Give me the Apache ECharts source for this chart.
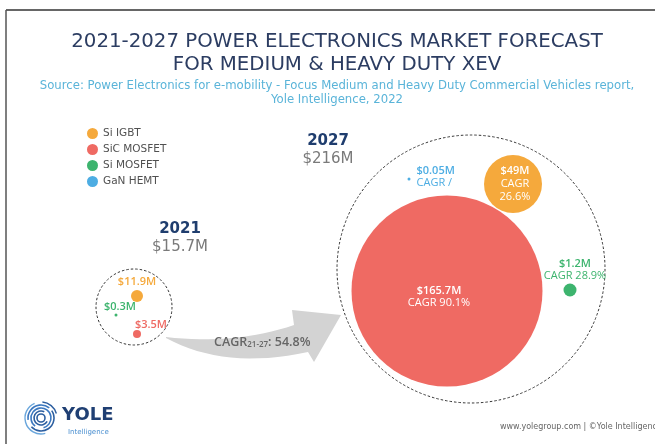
<!DOCTYPE html>
<html>
<head>
<meta charset="utf-8">
<script src="https://cdn.jsdelivr.net/npm/echarts@6/dist/echarts.min.js"></script>
<style>
  html, body { margin: 0; padding: 0; background: #fff; }
  #chart { width: 655px; height: 444px; }
</style>
</head>
<body>
<div id="chart"></div>
<script>
// market data ($M)
const segments = ['Si IGBT', 'SiC MOSFET', 'Si MOSFET', 'GaN HEMT'];
const years = ['2021', '2027'];
const totals = [15.7, 216];
const values2021 = [11.9, 3.5, 0.3, null];
const values2027 = [49, 165.7, 1.2, 0.05];
const cagr2027 = ['26.6%', '90.1%', '28.9%', '/'];
const totalCagr = 54.8;

const colors = ['#f5a93c', '#ef6a63', '#3db46e', '#4dade3'];

// layout of the infographic (hidden pixel-like axes)
const groupCenter = [[134, 307], [471, 269]];
const groupSize = [76, 268];
const offsets = [
  [[3, -11], [3, 27], [-18, 8], null],
  [[42, -85], [-24, 22], [99, 21], [-62, -90]]
];
const dotSize = [
  [12, 8, 3, 0],
  [58, 191, 13, 3]
];

const chart = echarts.init(document.getElementById('chart'));
const FONT = 'DejaVu Sans';
const LFONT = 'Open Sans';

function money(v) { return '$' + v + 'M'; }

// label placement for every bubble
function bubbleLabel(yi, si) {
  const c = colors[si];
  if (yi === 0) {
    const spec = [
      { position: 'top', distance: 3, offset: [0, 0] },
      { position: 'top', distance: 0, offset: [14, 0] },
      { position: 'top', distance: 1, offset: [4, 0] }
    ][si];
    return Object.assign({
      show: true, color: c, fontSize: 11, fontWeight: 600, fontFamily: LFONT,
      formatter: () => money(values2021[si])
    }, spec);
  }
  const v = values2027[si];
  const bold = { fontWeight: 600, fontSize: 11, fontFamily: LFONT };
  if (si === 0) {
    return {
      show: true, position: 'inside', color: '#fff', fontFamily: LFONT, fontSize: 11,
      lineHeight: 13, offset: [2, 0],
      formatter: '{b|' + money(v) + '}\nCAGR\n' + cagr2027[si],
      rich: { b: Object.assign({ color: '#fff' }, bold) }
    };
  }
  if (si === 1) {
    return {
      show: true, position: 'inside', color: '#fff', fontFamily: LFONT, fontSize: 11,
      lineHeight: 12, offset: [-8, 6],
      formatter: '{b|' + money(v) + '}\nCAGR ' + cagr2027[si],
      rich: { b: Object.assign({ color: '#fff' }, bold) }
    };
  }
  if (si === 2) {
    return {
      show: true, position: 'top', distance: 2, offset: [5, 0], color: c, fontFamily: LFONT,
      fontSize: 11, lineHeight: 12, align: 'center',
      formatter: '{b|' + money(v) + '}\nCAGR ' + cagr2027[si],
      rich: { b: Object.assign({ color: c, align: 'center' }, bold) }
    };
  }
  return {
    show: true, position: 'right', distance: 6, offset: [0, -2], color: c, fontFamily: LFONT,
    fontSize: 11, lineHeight: 12,
    formatter: '{b|' + money(v) + '}\nCAGR ' + cagr2027[si],
    rich: { b: Object.assign({ color: c }, bold) }
  };
}

const segmentSeries = segments.map(function (name, si) {
  const data = [];
  [values2021, values2027].forEach(function (vals, yi) {
    if (vals[si] == null) return;
    const off = offsets[yi][si];
    data.push({
      name: years[yi],
      value: [groupCenter[yi][0] + off[0], groupCenter[yi][1] + off[1], vals[si]],
      symbolSize: dotSize[yi][si],
      label: bubbleLabel(yi, si)
    });
  });
  return {
    name: name,
    type: 'scatter',
    z: 3,
    symbol: 'circle',
    itemStyle: { color: colors[si], opacity: 1 },
    emphasis: { disabled: true },
    data: data
  };
});

// dashed outline per year, carrying the year total
const yearLabelOffset = [[46, -69], [-143, -119]];
const yearSeries = {
  name: 'total',
  type: 'scatter',
  z: 1,
  symbol: 'circle',
  silent: true,
  itemStyle: { color: 'rgba(0,0,0,0)', opacity: 1, borderColor: '#333', borderWidth: 1, borderType: [2.5, 2] },
  data: years.map(function (y, yi) {
    return {
      value: [groupCenter[yi][0], groupCenter[yi][1], totals[yi]],
      symbolSize: groupSize[yi],
      label: {
        show: true, position: 'inside', offset: yearLabelOffset[yi],
        formatter: '{y|' + y + '}\n{v|' + money(totals[yi]) + '}',
        rich: {
          y: { fontFamily: FONT, fontWeight: 'bold', fontSize: 15, color: '#1f3d6e', lineHeight: 18, align: 'center' },
          v: { fontFamily: FONT, fontSize: 15, color: '#7a7a7a', lineHeight: 18, align: 'center' }
        }
      }
    };
  })
};

// grey arrow between the two years
function quad(p0, c, p1, n) {
  const pts = [];
  for (let i = 0; i <= n; i++) {
    const t = i / n, u = 1 - t;
    pts.push([u * u * p0[0] + 2 * u * t * c[0] + t * t * p1[0], u * u * p0[1] + 2 * u * t * c[1] + t * t * p1[1]]);
  }
  return pts;
}
const arrowPts = quad([166, 337], [235, 345], [294, 325], 16)
  .concat([[292, 310], [341, 315], [314, 362]])
  .concat(quad([308, 352], [225, 370], [166, 338], 16));

function logoArcs() {
  const arcs = [];
  const spec = [
    [4, 0, 6.3, '#2d5fa0', 1.6],
    [7, 0.5, 5.2, '#2d5fa0', 1.6],
    [10, 2.2, 7.6, '#3b78c0', 1.6],
    [13, -0.6, 2.4, '#2d5fa0', 1.6],
    [13, 3.0, 5.4, '#3b78c0', 1.6],
    [16, 1.3, 4.3, '#6aa6dc', 1.4],
    [16, 4.8, 6.0, '#2d5fa0', 1.4]
  ];
  spec.forEach(function (s) {
    arcs.push({
      type: 'arc',
      shape: { cx: 41, cy: 418, r: s[0], startAngle: s[1], endAngle: s[2] },
      style: { stroke: s[3], lineWidth: s[4], fill: null }
    });
  });
  return arcs;
}

const option = {
  backgroundColor: '#fff',
  animation: false,
  title: {
    text: '2021-2027 POWER ELECTRONICS MARKET FORECAST\nFOR MEDIUM & HEAVY DUTY XEV',
    subtext: 'Source: Power Electronics for e-mobility - Focus Medium and Heavy Duty Commercial Vehicles report,\nYole Intelligence, 2022',
    left: 332,
    textAlign: 'center',
    top: 25,
    itemGap: 3,
    textStyle: { fontFamily: FONT, fontWeight: 'normal', fontSize: 19.8, color: '#2c3d62', lineHeight: 23 },
    subtextStyle: { fontFamily: FONT, fontSize: 11.7, color: '#5ab4d9', lineHeight: 14 }
  },
  legend: {
    data: segments,
    orient: 'vertical',
    left: 82,
    top: 123,
    icon: 'circle',
    itemWidth: 11,
    itemHeight: 11,
    itemGap: 5,
    selectedMode: false,
    textStyle: { fontFamily: FONT, fontSize: 10.5, color: '#505050' }
  },
  grid: { left: 0, right: 0, top: 0, bottom: 0 },
  xAxis: { type: 'value', min: 0, max: 655, show: false },
  yAxis: { type: 'value', min: 0, max: 444, inverse: true, show: false },
  series: [yearSeries].concat(segmentSeries),
  graphic: [
    { type: 'line', shape: { x1: 6, y1: 10, x2: 655, y2: 10 }, style: { stroke: '#333', lineWidth: 1.5 }, z: 10 },
    { type: 'line', shape: { x1: 6, y1: 10, x2: 6, y2: 444 }, style: { stroke: '#555', lineWidth: 1.5 }, z: 10 },
    { type: 'polygon', shape: { points: arrowPts }, style: { fill: '#d3d3d3' }, z: 0 },
    {
      type: 'text', x: 214, y: 342, z: 1,
      style: {
        text: 'CAGR{s|21-27}: ' + totalCagr + '%',
        fontFamily: LFONT, fontSize: 12.5, fontWeight: 600, fill: '#666',
        verticalAlign: 'middle',
        rich: { s: { fontFamily: LFONT, fontSize: 8, fontWeight: 600, fill: '#666', padding: [6, 0, 0, 0] } }
      }
    }
  ].concat(logoArcs()).concat([
    { type: 'text', x: 62, y: 415, style: { text: 'YOLE', fontFamily: FONT, fontSize: 18, fontWeight: 'bold', fill: '#1f3f73', verticalAlign: 'middle' } },
    { type: 'text', x: 68, y: 432, style: { text: 'Intelligence', fontFamily: FONT, fontSize: 7, fill: '#4a8fd0', verticalAlign: 'middle' } },
    { type: 'text', x: 500, y: 427, style: { text: 'www.yolegroup.com | ©Yole Intelligence 2022', fontFamily: FONT, fontSize: 8, fill: '#666', verticalAlign: 'middle' } }
  ])
};

chart.setOption(option);
</script>
</body>
</html>
